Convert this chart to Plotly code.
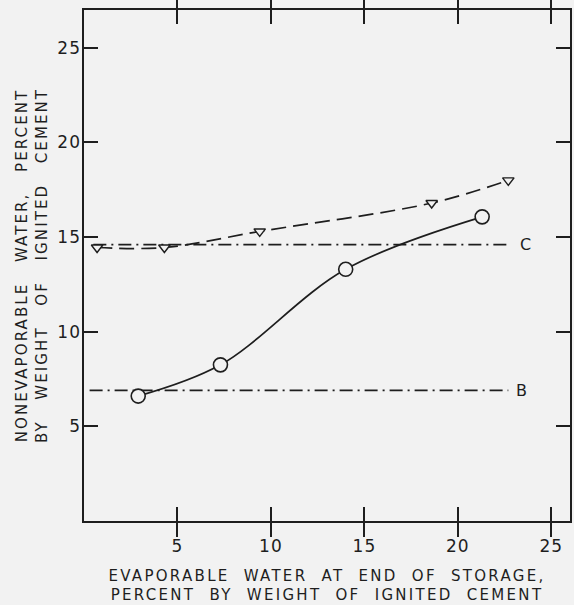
import plotly.graph_objects as go

# Data
circle_x = [2.9, 7.3, 14.0, 21.3]
circle_y = [6.6, 8.25, 13.3, 16.07]

tri_x = [0.7, 4.3, 9.4, 18.6, 22.7]
tri_y = [14.45, 14.45, 15.3, 16.8, 18.0]

line_c_x = [0.5, 22.8]
line_c_y = [14.6, 14.6]
line_b_x = [0.3, 22.7]
line_b_y = [6.9, 6.9]

x_ticks = [5, 10, 15, 20, 25]
y_ticks = [5, 10, 15, 20, 25]

BG = "#f2f2f2"
INK = "#1e1e1e"
FONT = "DejaVu Sans"
SP2 = "\u00a0\u00a0"
SP3 = "\u00a0\u00a0\u00a0"


def spaced(s, ls=2.0):
    return '<span style="letter-spacing:%.1fpx">%s</span>' % (ls, s)


fig = go.Figure()

fig.add_trace(go.Scatter(x=line_c_x, y=line_c_y, mode="lines",
                         line=dict(color=INK, width=1.7, dash="13px,5px,2px,5px")))
fig.add_trace(go.Scatter(x=line_b_x, y=line_b_y, mode="lines",
                         line=dict(color=INK, width=1.7, dash="13px,5px,2px,5px")))

fig.add_trace(go.Scatter(x=tri_x, y=tri_y, mode="lines",
                         line=dict(color=INK, width=1.7, dash="15px,7px", shape="spline", smoothing=1)))
fig.add_trace(go.Scatter(x=circle_x, y=circle_y, mode="lines",
                         line=dict(color=INK, width=1.7, shape="spline", smoothing=1)))

fig.add_trace(go.Scatter(x=tri_x, y=tri_y, mode="markers",
                         marker=dict(symbol="triangle-down", size=10, color=BG,
                                     line=dict(color=INK, width=1.4))))
fig.add_trace(go.Scatter(x=circle_x, y=circle_y, mode="markers",
                         marker=dict(symbol="circle", size=14, color=BG,
                                     line=dict(color=INK, width=1.6))))
# empty trace so the label-only overlay axis exists
fig.add_trace(go.Scatter(x=[], y=[], yaxis="y2", mode="markers", hoverinfo="skip"))

fig.add_annotation(x=23.2, y=14.6, text="C", showarrow=False, xanchor="left",
                   font=dict(family=FONT, size=16, color=INK))
fig.add_annotation(x=23.0, y=6.9, text="B", showarrow=False, xanchor="left",
                   font=dict(family=FONT, size=16, color=INK))

x_title = (spaced("EVAPORABLE" + SP2 + "WATER" + SP2 + "AT" + SP2 + "END" + SP2 + "OF" + SP2 + "STORAGE,", 2.3)
           + "<br>" +
           spaced("PERCENT" + SP2 + "BY" + SP2 + "WEIGHT" + SP2 + "OF" + SP2 + "IGNITED" + SP2 + "CEMENT", 2.3))
y_title = (spaced("NONEVAPORABLE" + SP3 + "WATER," + SP3 + "PERCENT", 2.1)
           + "<br>" +
           spaced("BY" + SP3 + "WEIGHT" + SP3 + "OF" + SP3 + "IGNITED" + SP3 + "CEMENT", 2.1))

fig.update_layout(
    width=574, height=605,
    margin=dict(l=84, r=2, t=10, b=84),
    paper_bgcolor=BG, plot_bgcolor=BG,
    showlegend=False,
    font=dict(family=FONT, size=15, color=INK),
    xaxis=dict(
        range=[0, 26], tickvals=x_ticks, ticktext=[spaced(str(v), 1) for v in x_ticks],
        ticks="inside", ticklen=14, tickwidth=2, tickcolor=INK,
        showline=True, linewidth=2, linecolor=INK, mirror="allticks",
        showgrid=False, zeroline=False, ticklabelstandoff=9,
        title=dict(text=x_title, standoff=15, font=dict(family=FONT, size=15, color=INK)),
        tickfont=dict(family=FONT, size=17, color=INK),
    ),
    yaxis=dict(
        range=[0, 27], tickvals=y_ticks, showticklabels=False,
        ticks="inside", ticklen=14, tickwidth=2, tickcolor=INK,
        showline=True, linewidth=2, linecolor=INK, mirror="allticks",
        showgrid=False, zeroline=False,
        title=dict(text=y_title, standoff=31, font=dict(family=FONT, size=15, color=INK)),
    ),
    yaxis2=dict(
        overlaying="y", anchor="free", position=0, side="left",
        range=[0, 27], tickvals=y_ticks, ticktext=[spaced(str(v), 1) for v in y_ticks],
        ticks="", showline=False, showgrid=False, zeroline=False, ticklabelstandoff=3,
        tickfont=dict(family=FONT, size=17, color=INK),
    ),
)

fig.write_html("out.html")
